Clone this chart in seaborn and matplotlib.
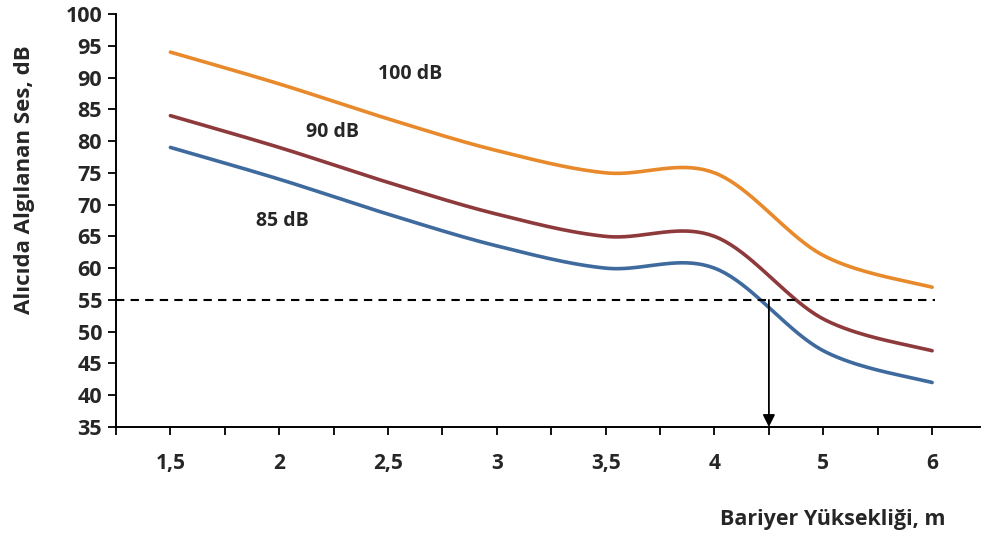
import matplotlib
matplotlib.use("Agg")
import matplotlib.pyplot as plt
import numpy as np
import pandas as pd
import seaborn as sns

# Data (categories are evenly spaced, like an Excel category axis)
heights = ["1,5", "2", "2,5", "3", "3,5", "4", "5", "6"]
level_100 = [94, 89, 83.5, 78.5, 75, 75, 62, 57]
level_90 = [84, 79, 73.5, 68.5, 65, 65, 52, 47]
level_85 = [79, 74, 68.5, 63.5, 60, 60, 47, 42]
series_names = ["100 dB", "90 dB", "85 dB"]
series_colors = ["#E8892B", "#8E3A3C", "#3F6A9E"]
limit_db = 55
arrow_pos = 5.5  # between "4" and "5"


def excel_smooth(y, steps=40):
    # Bezier smoothing like Excel's "smoothed line" (Catmull-Rom control points)
    p = np.column_stack([np.arange(len(y), dtype=float), np.asarray(y, float)])
    xs, ys = [], []
    for i in range(len(p) - 1):
        prev = p[i - 1] if i > 0 else p[i]
        nxt = p[i + 2] if i + 2 < len(p) else p[i + 1]
        c1 = p[i] + (p[i + 1] - prev) / 6
        c2 = p[i + 1] - (nxt - p[i]) / 6
        t = np.linspace(0, 1, steps, endpoint=(i == len(p) - 2))[:, None]
        b = ((1 - t) ** 3) * p[i] + 3 * ((1 - t) ** 2) * t * c1 \
            + 3 * (1 - t) * t ** 2 * c2 + t ** 3 * p[i + 1]
        xs.append(b[:, 0])
        ys.append(b[:, 1])
    return np.concatenate(xs), np.concatenate(ys)


frames = []
for name, vals in zip(series_names, [level_100, level_90, level_85]):
    sx, sy = excel_smooth(vals)
    frames.append(pd.DataFrame({"pos": sx, "db": sy, "series": name}))
df = pd.concat(frames, ignore_index=True)

sns.set_style("ticks")
plt.rcParams["font.family"] = ["Open Sans", "DejaVu Sans"]
plt.rcParams["font.weight"] = "bold"

fig = plt.figure(figsize=(9.82, 5.36), dpi=100)
ax = fig.add_axes([116 / 982, 109 / 536, 864 / 982, 413 / 536])

sns.lineplot(data=df, x="pos", y="db", hue="series", palette=series_colors,
             hue_order=series_names, sort=False, estimator=None,
             linewidth=2.6, legend=False, ax=ax)

# 55 dB limit and the arrow down to the axis
ax.hlines(limit_db, -0.5, len(heights) - 0.97, colors="black",
          linestyles=(0, (4, 3)), linewidth=1.5)
ax.annotate("", xy=(arrow_pos, 35), xytext=(arrow_pos, limit_db),
            arrowprops=dict(arrowstyle="-|>", color="black", lw=1.3,
                            mutation_scale=18, shrinkA=0, shrinkB=0))

# series labels
ax.text(2.2, 90.5, "100 dB", ha="center", va="center", fontsize=14, fontweight="bold")
ax.text(1.49, 81.4, "90 dB", ha="center", va="center", fontsize=14, fontweight="bold")
ax.text(1.03, 67.4, "85 dB", ha="center", va="center", fontsize=14, fontweight="bold")

ax.set_xlim(-0.5, 7.44)
ax.set_ylim(35, 100)
ax.set_yticks(range(35, 101, 5))
ax.set_xticks(range(len(heights)))
ax.set_xticklabels(heights)
ax.set_xticks(np.arange(-0.5, 7.5, 1.0), minor=True)
ax.tick_params(axis="both", which="both", direction="out", length=6, width=1.3,
               color="black")
ax.tick_params(axis="x", which="major", pad=13, labelsize=15)
ax.tick_params(axis="y", which="major", pad=4, labelsize=15.5)
for lab in ax.get_xticklabels() + ax.get_yticklabels():
    lab.set_fontweight("bold")

sns.despine(ax=ax)
for side in ["left", "bottom"]:
    ax.spines[side].set_linewidth(1.4)
    ax.spines[side].set_color("black")

ax.set_xlabel("")
ax.set_ylabel("")
fig.text(25 / 982, 1 - 180 / 536, "Alıcıda Algılanan Ses, dB", rotation=90,
         ha="center", va="center", fontsize=16, fontweight="bold")
fig.text(945 / 982, 1 - 520 / 536, "Bariyer Yüksekliği, m", ha="right",
         va="center", fontsize=15.5, fontweight="bold")

fig.savefig("out.png", dpi=100)
